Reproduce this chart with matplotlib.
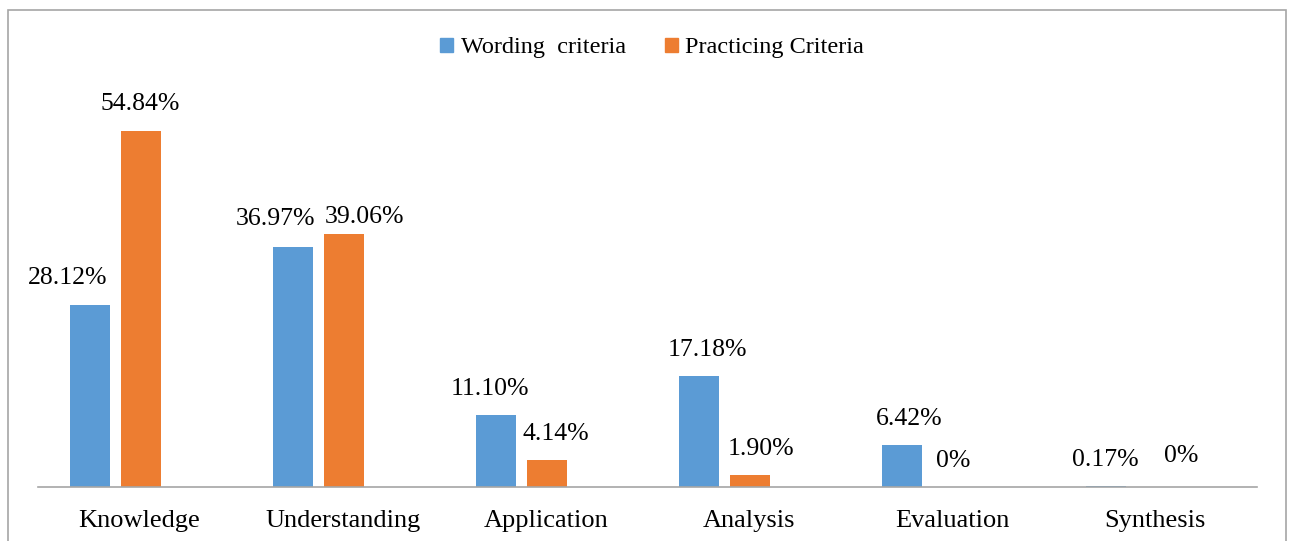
import numpy as np
import matplotlib
matplotlib.use("Agg")
import matplotlib.pyplot as plt
from matplotlib.patches import Rectangle, Patch

categories = ["Knowledge", "Understanding", "Application", "Analysis", "Evaluation", "Synthesis"]
wording = [28.12, 36.97, 11.10, 17.18, 6.42, 0.17]
practicing = [54.84, 39.06, 4.14, 1.90, 0.0, 0.0]
wording_labels = ["28.12%", "36.97%", "11.10%", "17.18%", "6.42%", "0.17%"]
practicing_labels = ["54.84%", "39.06%", "4.14%", "1.90%", "0%", "0%"]

BLUE = "#5B9BD5"
ORANGE = "#ED7D31"
GREY = "#A6A6A6"

plt.rcParams["font.family"] = ["Liberation Serif", "DejaVu Serif"]

W, H = 1295, 541
fig = plt.figure(figsize=(W / 100, H / 100), dpi=100)

# outer chart frame (bottom edge is cut off in the original)
fig.patches.append(Rectangle((8 / W, -0.05), (1286 - 8) / W, (H - 10) / H + 0.05,
                             transform=fig.transFigure, fill=False,
                             edgecolor=GREY, linewidth=1.2))

ax = fig.add_axes([38 / W, (H - 487) / H, (1257 - 38) / W, (487 - 97.6) / H])
ax.set_xlim(-0.5, 5.5)
ax.set_ylim(0, 60)

x = np.arange(len(categories))
bw = 0.197
ax.bar(x - 0.245, wording, bw, color=BLUE)
ax.bar(x + 0.005, practicing, bw, color=ORANGE)

for s in ["top", "right", "left"]:
    ax.spines[s].set_visible(False)
ax.spines["bottom"].set_color(GREY)
ax.spines["bottom"].set_linewidth(1.2)
ax.set_yticks([])
ax.set_xticks(x)
ax.set_xticklabels(categories, fontsize=19)
ax.tick_params(axis="x", length=0, pad=16.5)
ax.patch.set_alpha(0)

# data labels, nudged as in the original (dx, dy in pixels)
w_off = [(-22, 27), (-17, 28), (-6, 26), (8, 26), (7, 26), (0, 26)]
p_off = [(0, 27), (21, 17), (9, 26), (11, 26), (0, 26), (25, 31)]
for i in range(len(categories)):
    ax.annotate(wording_labels[i], (x[i] - 0.245, wording[i]),
                xytext=(w_off[i][0] * 0.72, w_off[i][1] * 0.72), textcoords="offset points",
                ha="center", va="center", fontsize=18.5)
    ax.annotate(practicing_labels[i], (x[i] + 0.005, practicing[i]),
                xytext=(p_off[i][0] * 0.72, p_off[i][1] * 0.72), textcoords="offset points",
                ha="center", va="center", fontsize=18.5)

handles = [Patch(color=BLUE, label="Wording  criteria"),
           Patch(color=ORANGE, label="Practicing Criteria")]
fig.legend(handles=handles, loc="center", bbox_to_anchor=(652 / W, (H - 48) / H),
           ncol=2, frameon=False, fontsize=17.5, handlelength=0.55, handleheight=0.55,
           handletextpad=0.3, columnspacing=1.6)

fig.savefig("out.png", dpi=100)
